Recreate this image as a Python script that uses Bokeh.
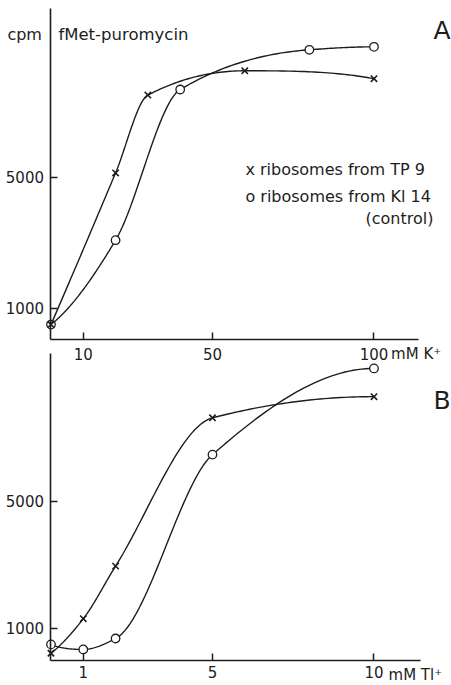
import numpy as np
from bokeh.plotting import figure
from bokeh.models import Range1d, FixedTicker, Label, LinearAxis
from bokeh.embed import file_html
from bokeh.resources import INLINE

# --- data: fMet-puromycin formed (cpm) vs. monovalent cation concentration ---
# panel A: K+ (mM)
k_conc_tp9 = [0, 20, 30, 60, 100]
k_cpm_tp9 = [510, 5130, 7500, 8240, 8000]
k_conc_kl14 = [0, 20, 40, 80, 100]
k_cpm_kl14 = [510, 3080, 7670, 8880, 8970]

# panel B: Tl+ (mM)
tl_conc = [0, 1, 2, 5, 10]
tl_cpm_tp9 = [210, 1300, 2960, 7640, 8310]
tl_cpm_kl14 = [490, 330, 675, 6480, 9200]

k_ticks = [10, 50, 100]
tl_ticks = [1, 5, 10]
cpm_ticks = [1000, 5000]

INK = "#1d1d1d"
FONT = "DejaVu Sans"


def _end_slope(h0, h1, d0, d1):
    m = ((2 * h0 + h1) * d0 - h0 * d1) / (h0 + h1)
    if np.sign(m) != np.sign(d0):
        return 0.0
    if np.sign(d0) != np.sign(d1) and abs(m) > abs(3 * d0):
        return 3 * d0
    return m


def smooth(xs, ys, n=40):
    """Shape-preserving cubic (PCHIP) curve through the measured points."""
    xs = np.asarray(xs, float)
    ys = np.asarray(ys, float)
    h = np.diff(xs)
    d = np.diff(ys) / h
    m = np.zeros_like(ys)
    for k in range(1, len(xs) - 1):
        if d[k - 1] * d[k] > 0:
            w1 = 2 * h[k] + h[k - 1]
            w2 = h[k] + 2 * h[k - 1]
            m[k] = (w1 + w2) / (w1 / d[k - 1] + w2 / d[k])
    m[0] = _end_slope(h[0], h[1], d[0], d[1])
    m[-1] = _end_slope(h[-1], h[-2], d[-1], d[-2])
    cx, cy = [], []
    for i in range(len(xs) - 1):
        t = np.linspace(0, 1, n, endpoint=(i == len(xs) - 2))
        h00 = 2 * t**3 - 3 * t**2 + 1
        h10 = t**3 - 2 * t**2 + t
        h01 = -2 * t**3 + 3 * t**2
        h11 = t**3 - t**2
        cx.append(xs[i] + t * h[i])
        cy.append(h00 * ys[i] + h10 * h[i] * m[i] + h01 * ys[i + 1] + h11 * h[i] * m[i + 1])
    return np.concatenate(cx), np.concatenate(cy)


def style_axis(ax, ticks, at, bounds, standoff):
    ax.ticker = FixedTicker(ticks=ticks)
    ax.fixed_location = at
    ax.bounds = bounds
    ax.axis_line_color = INK
    ax.axis_line_width = 1.6
    ax.major_tick_line_color = INK
    ax.major_tick_line_width = 1.5
    ax.major_tick_in = 7
    ax.major_tick_out = 0
    ax.minor_tick_line_color = None
    ax.major_label_text_font = FONT
    ax.major_label_text_font_size = "15px"
    ax.major_label_text_color = INK
    ax.major_label_standoff = standoff


def draw_series(p, xs, ys, marker, rng):
    cx, cy = smooth(xs, ys)
    p.line(cx, cy, line_color=INK, line_width=1.4, **rng)
    if marker == "x":
        p.scatter(xs, ys, marker="x", size=9, line_color=INK, line_width=1.6, **rng)
    else:
        p.scatter(xs, ys, marker="circle", size=8.5, line_color=INK,
                  fill_color="white", line_width=1.3, **rng)


def text(p, x, y, s, rng, size="16px", align="left"):
    p.add_layout(Label(x=x, y=y, text=s, text_font=FONT, text_font_size=size,
                       text_color=INK, text_align=align, text_baseline="alphabetic",
                       **rng))


# one canvas, two stacked panels; each panel has its own pair of ranges
p = figure(width=451, height=685, output_backend="svg", toolbar_location=None,
           x_range=Range1d(-15.63, 124.0), y_range=Range1d(-10484, 10381),
           min_border=0, background_fill_color="white", border_fill_color="white")
p.extra_x_ranges = {"tl": Range1d(-1.563, 12.40)}
p.extra_y_ranges = {"cpm_b": Range1d(-808, 20814)}
p.grid.visible = False
p.outline_line_color = None

A = {}
B = {"x_range_name": "tl", "y_range_name": "cpm_b"}

# ---------------- panel A: K+ ----------------
style_axis(p.xaxis[0], k_ticks, 55, (0, 113.8), 8)
style_axis(p.yaxis[0], cpm_ticks, 0, (55, 10137), 7)
draw_series(p, k_conc_kl14, k_cpm_kl14, "o", A)
draw_series(p, k_conc_tp9, k_cpm_tp9, "x", A)

text(p, -13.5, 9345, "cpm", A)
text(p, 2.3, 9345, "fMet-puromycin", A, size="16.5px")
text(p, 60.2, 5233, "x  ribosomes  from  TP 9", A)
text(p, 60.2, 4420, "o  ribosomes  from  Kl 14", A)
text(p, 118.4, 3749, "(control)", A, align="right")
text(p, 118.4, 9467, "A", A, size="25px")
text(p, 105.3, -400, "mM K\u207a", A, size="15px")

# ---------------- panel B: Tl+ ----------------
xb = LinearAxis(**B)
yb = LinearAxis(**B)
style_axis(xb, tl_ticks, -19, (0, 11.44), 5)
style_axis(yb, cpm_ticks, 0, (-19, 9672), 7)
p.add_layout(xb, "below")
p.add_layout(yb, "left")
draw_series(p, tl_conc, tl_cpm_kl14, "o", B)
draw_series(p, tl_conc, tl_cpm_tp9, "x", B)

text(p, 11.84, 8188, "B", B, size="25px")
text(p, 10.45, -480, "mM Tl\u207a", B, size="15px")

open("out.html", "w").write(file_html(p, INLINE))
